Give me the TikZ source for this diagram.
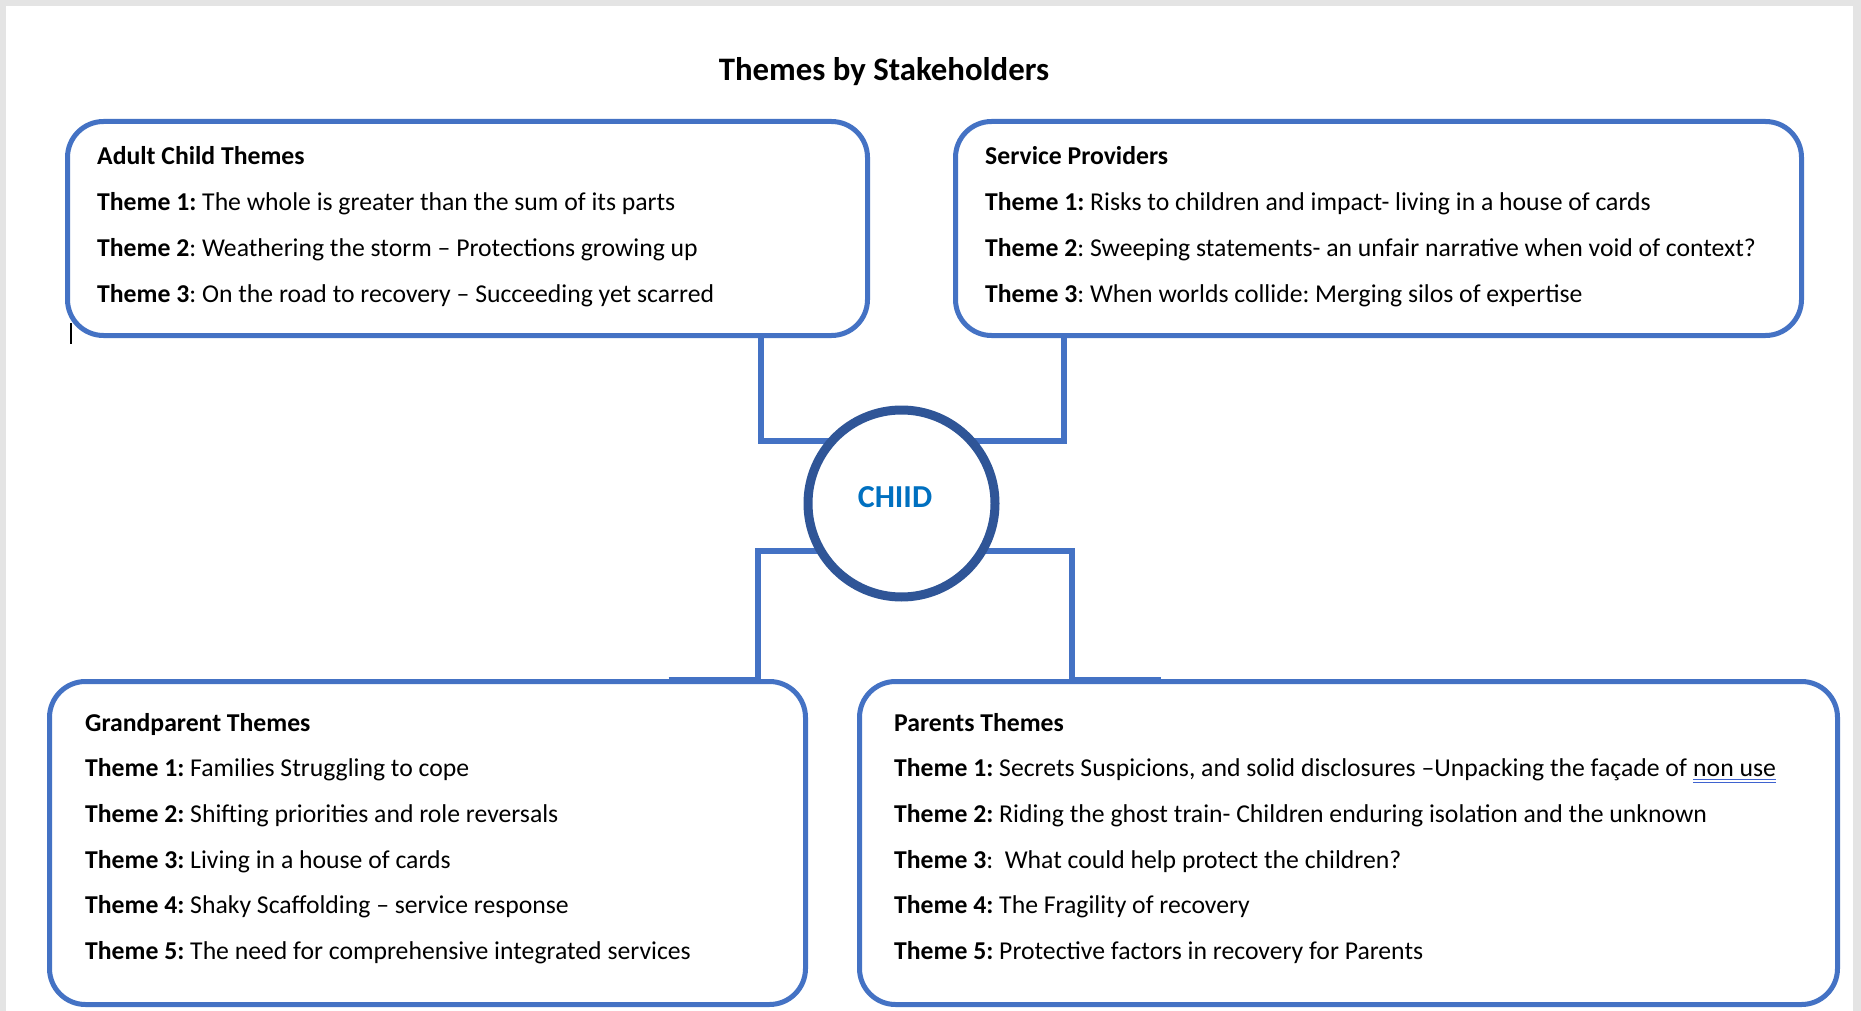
\documentclass[tikz,border=0pt]{standalone}
\usepackage{fontspec}
\setmainfont{Carlito}
\usetikzlibrary{calc}
\definecolor{boxblue}{HTML}{4472C4}
\definecolor{circblue}{HTML}{2F5597}
\definecolor{txtblue}{HTML}{0070C0}
\definecolor{pagegrey}{HTML}{E4E4E4}
\definecolor{ulblue}{HTML}{3F63D0}
\pgfdeclarelayer{bg}
\pgfsetlayers{bg,main}
\frenchspacing
\begin{document}
\begin{tikzpicture}[x=1pt,y=-1pt,
  box/.style={draw=boxblue, line width=5pt, rounded corners=36pt, fill=white, inner sep=0pt, outer sep=0pt},
  conn/.style={draw=boxblue, line width=6pt},
  hub/.style={draw=circblue, line width=9pt, circle, fill=white, inner sep=0pt, minimum size=187pt},
  txt/.style={anchor=base west, inner sep=0pt, font=\fontsize{25.7}{30}\selectfont},
  hd/.style={txt, font=\fontsize{25.7}{30}\selectfont\bfseries}]
\useasboundingbox (0,0) rectangle (1861,1011);
\begin{pgfonlayer}{bg}
\fill[pagegrey] (0,0) rectangle (1861,1011);
\fill[white] (6,6) rectangle (1853,1011);
\end{pgfonlayer}

% title
\node[anchor=base, inner sep=0pt, font=\fontsize{32.8}{38}\selectfont\bfseries] (title) at (884,81) {Themes by Stakeholders};

% boxes
\node[box, minimum width=800pt, minimum height=214pt] (tl) at (467.5,228.5) {};
\node[box, minimum width=846pt, minimum height=214pt] (tr) at (1378.5,228.5) {};
\node[box, minimum width=756pt, minimum height=323pt] (bl) at (427.5,843) {};
\node[box, minimum width=978pt, minimum height=323pt] (br) at (1348.5,843) {};

% hub
\node[hub] (chiid) at (901.5,503.5) {};
\node[anchor=base, inner sep=0pt, text=txtblue, font=\fontsize{32}{38}\selectfont\bfseries] (chiidtxt) at (895,507) {CHIID};

% connector anchor points on the boxes
\coordinate (tlc) at (760.5,335.5);
\coordinate (trc) at (1064,335.5);
\coordinate (blc) at (757.5,681.5);
\coordinate (brc) at (1072,681.5);

\begin{pgfonlayer}{bg}
\draw[conn, shorten >=-5pt] (tlc) |- (chiid.140);
\draw[conn, shorten >=-5pt] (trc) |- (chiid.40);
\draw[conn, shorten <=-5pt] (chiid.209) -| (blc);
\draw[conn, shorten <=-5pt] (chiid.331) -| (brc);
\end{pgfonlayer}
\draw[boxblue, line width=7pt] ([xshift=-89pt,yshift=1pt]blc) -- ([xshift=3pt,yshift=1pt]blc);
\draw[boxblue, line width=7pt] ([xshift=-3pt,yshift=1pt]brc) -- ([xshift=89pt,yshift=1pt]brc);

% Adult Child
\node[hd] (tl0) at (97,165) {Adult Child Themes};
\node[txt] (tl1) at (97,210.7) {\textbf{Theme 1:} The whole is greater than the sum of its parts};
\node[txt] (tl2) at (97,256.4) {\textbf{Theme 2}: Weathering the storm – Protections growing up};
\node[txt] (tl3) at (97,302.1) {\textbf{Theme 3}: On the road to recovery – Succeeding yet scarred};

% Service Providers
\node[hd] (tr0) at (985,165) {Service Providers};
\node[txt] (tr1) at (985,210.7) {\textbf{Theme 1:} Risks to children and impact- living in a house of cards};
\node[txt] (tr2) at (985,256.4) {\textbf{Theme 2}: Sweeping statements- an unfair narrative when void of context?};
\node[txt] (tr3) at (985,302.1) {\textbf{Theme 3}: When worlds collide: Merging silos of expertise};

% Grandparent
\node[hd] (bl0) at (85,731) {Grandparent Themes};
\node[txt] (bl1) at (85,776.7) {\textbf{Theme 1:} Families Struggling to cope};
\node[txt] (bl2) at (85,822.4) {\textbf{Theme 2:} Shifting priorities and role reversals};
\node[txt] (bl3) at (85,868.1) {\textbf{Theme 3:} Living in a house of cards};
\node[txt] (bl4) at (85,913.8) {\textbf{Theme 4:} Shaky Scaffolding – service response};
\node[txt] (bl5) at (85,959.5) {\textbf{Theme 5:} The need for comprehensive integrated services};

% Parents
\node[hd] (br0) at (894,731) {Parents Themes};
\node[txt] (br1) at (894,776.7) {\textbf{Theme 1:} Secrets Suspicions, and solid disclosures –Unpacking the façade of};
\node[txt] (nonuse) at ([xshift=5.8pt]br1.base east) {non use};
\draw[ulblue, line width=1.1pt] ([yshift=-3pt]nonuse.base west) -- ([yshift=-3pt]nonuse.base east);
\draw[ulblue, line width=1.1pt] ([yshift=-6pt]nonuse.base west) -- ([yshift=-6pt]nonuse.base east);
\node[txt] (br2) at (894,822.4) {\textbf{Theme 2:} Riding the ghost train- Children enduring isolation and the unknown};
\node[txt] (br3) at (894,868.1) {\textbf{Theme 3}:~ What could help protect the children?};
\node[txt] (br4) at (894,913.8) {\textbf{Theme 4:} The Fragility of recovery};
\node[txt] (br5) at (894,959.5) {\textbf{Theme 5:} Protective factors in recovery for Parents};

% text cursor mark
\draw[black, line width=1.3pt] (71,323) -- (71,344);
\end{tikzpicture}
\end{document}
